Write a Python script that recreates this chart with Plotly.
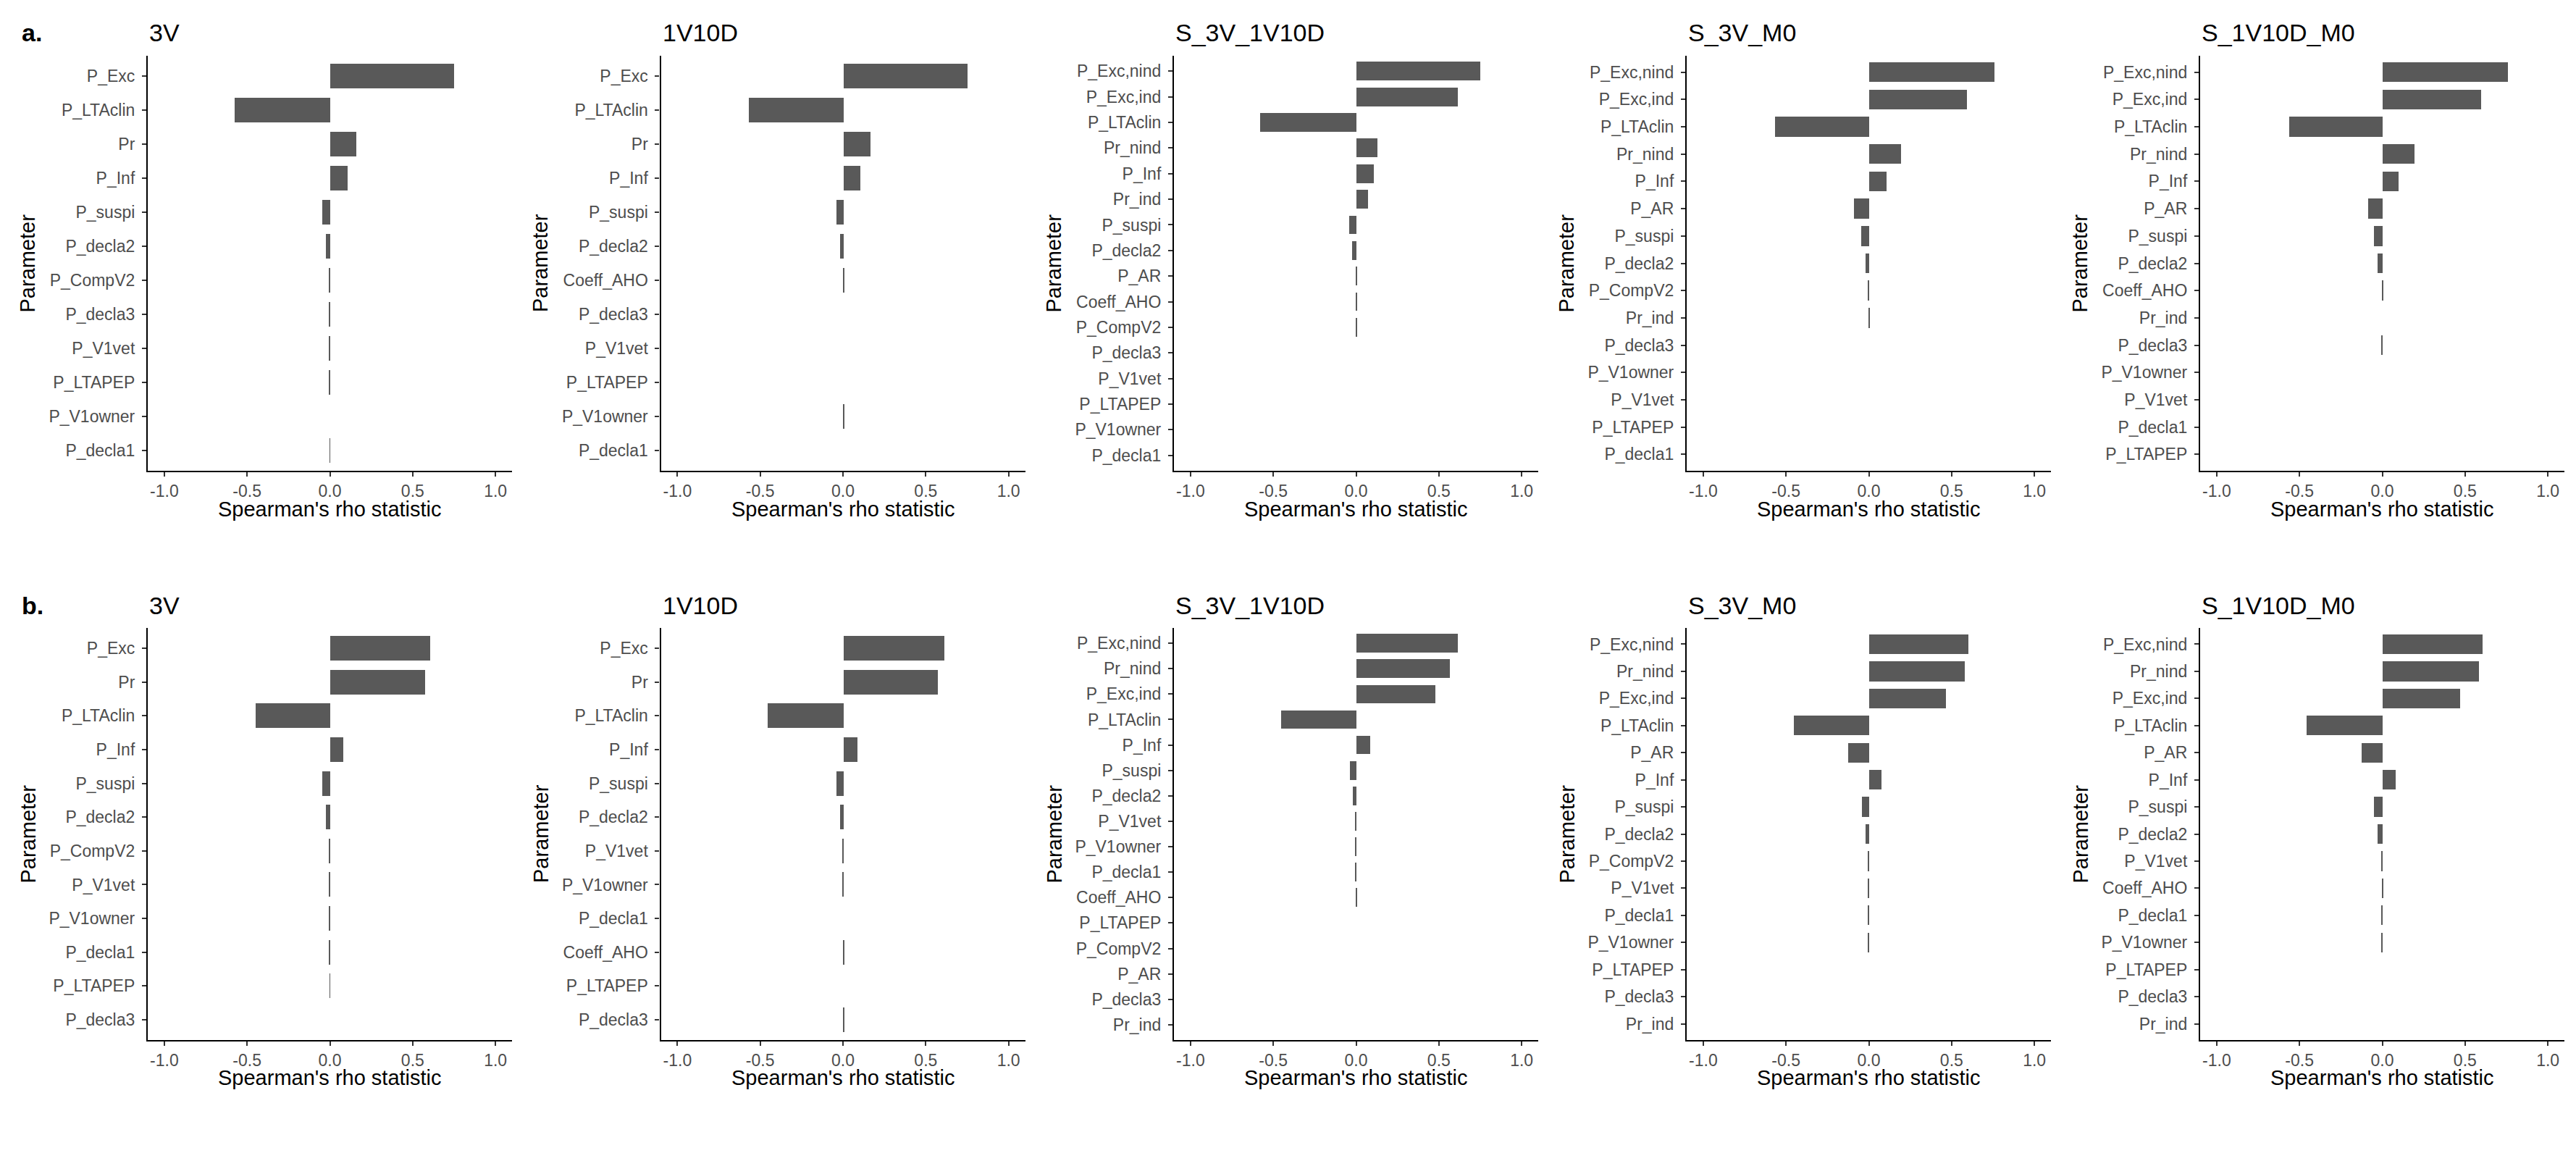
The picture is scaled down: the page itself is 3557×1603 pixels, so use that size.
import plotly.graph_objects as go

# ---------------- DATA ----------------
panel_titles = ["3V", "1V10D", "S_3V_1V10D", "S_3V_M0", "S_1V10D_M0"]
row_labels = ["a.", "b."]
x_tick_vals = [-1.0, -0.5, 0.0, 0.5, 1.0]
x_tick_text = ["-1.0", "-0.5", "0.0", "0.5", "1.0"]

# Row a
a_3V_params = ["P_Exc", "P_LTAclin", "Pr", "P_Inf", "P_suspi", "P_decla2", "P_CompV2",
               "P_decla3", "P_V1vet", "P_LTAPEP", "P_V1owner", "P_decla1"]
a_3V_rho = [0.752, -0.577, 0.161, 0.105, -0.044, -0.024, -0.004, -0.004, -0.004, -0.003, 0.0, -0.002]

a_1V10D_params = ["P_Exc", "P_LTAclin", "Pr", "P_Inf", "P_suspi", "P_decla2", "Coeff_AHO",
                  "P_decla3", "P_V1vet", "P_LTAPEP", "P_V1owner", "P_decla1"]
a_1V10D_rho = [0.752, -0.572, 0.162, 0.104, -0.040, -0.020, 0.003, 0.0, 0.0, 0.0, 0.003, 0.0]

a_S3V1V10D_params = ["P_Exc,nind", "P_Exc,ind", "P_LTAclin", "Pr_nind", "P_Inf", "Pr_ind",
                     "P_suspi", "P_decla2", "P_AR", "Coeff_AHO", "P_CompV2", "P_decla3",
                     "P_V1vet", "P_LTAPEP", "P_V1owner", "P_decla1"]
a_S3V1V10D_rho = [0.748, 0.613, -0.579, 0.127, 0.107, 0.070, -0.042, -0.026, 0.003, 0.003,
                  0.003, 0.0, 0.0, 0.0, 0.0, 0.0]

a_S3VM0_params = ["P_Exc,nind", "P_Exc,ind", "P_LTAclin", "Pr_nind", "P_Inf", "P_AR",
                  "P_suspi", "P_decla2", "P_CompV2", "Pr_ind", "P_decla3", "P_V1owner",
                  "P_V1vet", "P_LTAPEP", "P_decla1"]
a_S3VM0_rho = [0.757, 0.592, -0.565, 0.193, 0.105, -0.089, -0.048, -0.020, -0.006, 0.003,
               0.0, 0.0, 0.0, 0.0, 0.0]

a_S1V10DM0_params = ["P_Exc,nind", "P_Exc,ind", "P_LTAclin", "Pr_nind", "P_Inf", "P_AR",
                     "P_suspi", "P_decla2", "Coeff_AHO", "Pr_ind", "P_decla3", "P_V1owner",
                     "P_V1vet", "P_decla1", "P_LTAPEP"]
a_S1V10DM0_rho = [0.761, 0.596, -0.562, 0.195, 0.098, -0.087, -0.049, -0.028, 0.005, 0.0,
                  -0.005, 0.0, 0.0, 0.0, 0.0]

# Row b
b_3V_params = ["P_Exc", "Pr", "P_LTAclin", "P_Inf", "P_suspi", "P_decla2", "P_CompV2",
               "P_V1vet", "P_V1owner", "P_decla1", "P_LTAPEP", "P_decla3"]
b_3V_rho = [0.607, 0.573, -0.450, 0.080, -0.044, -0.024, -0.004, -0.004, -0.003, -0.003, -0.002, 0.0]

b_1V10D_params = ["P_Exc", "Pr", "P_LTAclin", "P_Inf", "P_suspi", "P_decla2", "P_V1vet",
                  "P_V1owner", "P_decla1", "Coeff_AHO", "P_LTAPEP", "P_decla3"]
b_1V10D_rho = [0.608, 0.570, -0.455, 0.086, -0.040, -0.020, -0.006, -0.006, 0.0, 0.003, 0.0, 0.003]

b_S3V1V10D_params = ["P_Exc,nind", "Pr_nind", "P_Exc,ind", "P_LTAclin", "P_Inf", "P_suspi",
                     "P_decla2", "P_V1vet", "P_V1owner", "P_decla1", "Coeff_AHO", "P_LTAPEP",
                     "P_CompV2", "P_AR", "P_decla3", "Pr_ind"]
b_S3V1V10D_rho = [0.613, 0.565, 0.478, -0.454, 0.086, -0.038, -0.020, -0.005, -0.005, -0.005,
                  0.003, 0.0, 0.0, 0.0, 0.0, 0.0]

b_S3VM0_params = ["P_Exc,nind", "Pr_nind", "P_Exc,ind", "P_LTAclin", "P_AR", "P_Inf",
                  "P_suspi", "P_decla2", "P_CompV2", "P_V1vet", "P_decla1", "P_V1owner",
                  "P_LTAPEP", "P_decla3", "Pr_ind"]
b_S3VM0_rho = [0.602, 0.581, 0.467, -0.451, -0.125, 0.076, -0.042, -0.020, -0.006, -0.006,
               -0.006, -0.004, 0.0, 0.0, 0.0]

b_S1V10DM0_params = ["P_Exc,nind", "Pr_nind", "P_Exc,ind", "P_LTAclin", "P_AR", "P_Inf",
                     "P_suspi", "P_decla2", "P_V1vet", "Coeff_AHO", "P_decla1", "P_V1owner",
                     "P_LTAPEP", "P_decla3", "Pr_ind"]
b_S1V10DM0_rho = [0.604, 0.585, 0.469, -0.456, -0.125, 0.081, -0.049, -0.028, -0.005, 0.005,
                  -0.005, -0.005, 0.0, 0.0, 0.0]

rows = [
    [(a_3V_params, a_3V_rho), (a_1V10D_params, a_1V10D_rho),
     (a_S3V1V10D_params, a_S3V1V10D_rho), (a_S3VM0_params, a_S3VM0_rho),
     (a_S1V10DM0_params, a_S1V10DM0_rho)],
    [(b_3V_params, b_3V_rho), (b_1V10D_params, b_1V10D_rho),
     (b_S3V1V10D_params, b_S3V1V10D_rho), (b_S3VM0_params, b_S3VM0_rho),
     (b_S1V10DM0_params, b_S1V10DM0_rho)],
]

# ---------------- LAYOUT ----------------
W, H = 3557, 1603
FONT = "Liberation Sans, Arial, sans-serif"
BAR_COLOR = "#595959"
TICK_COLOR = "#4D4D4D"

panel_lefts = [196, 904.5, 1613, 2321, 3030]
panel_width = 503
row_tops = [69, 859]
row_bottoms = [642, 1428]
title_y = [37, 828]
xtitle_y = [695, 1480]


def px(x):
    return x / W


def py(y):
    return 1 - y / H


fig = go.Figure()
annotations = []
layout = {}

k = 0
for r, row in enumerate(rows):
    for c, (params, rho) in enumerate(row):
        k += 1
        xa = "x" if k == 1 else f"x{k}"
        ya = "y" if k == 1 else f"y{k}"
        xkey = "xaxis" if k == 1 else f"xaxis{k}"
        ykey = "yaxis" if k == 1 else f"yaxis{k}"
        left = panel_lefts[c]
        right = left + panel_width
        top, bottom = row_tops[r], row_bottoms[r]
        n = len(params)

        fig.add_trace(go.Bar(
            x=rho, y=params, orientation="h", width=0.73,
            marker=dict(color=BAR_COLOR, line=dict(width=0)),
            xaxis=xa, yaxis=ya, showlegend=False,
        ))

        layout[xkey] = dict(
            domain=[px(left), px(right)], anchor=ya,
            range=[-1.1, 1.1], tickvals=x_tick_vals, ticktext=x_tick_text,
            showline=True, linecolor="black", linewidth=2.2,
            ticks="outside", ticklen=6, tickwidth=2, tickcolor="#333333",
            showgrid=False, zeroline=False,
            tickfont=dict(family=FONT, size=23, color=TICK_COLOR),
        )
        layout[ykey] = dict(
            domain=[py(bottom), py(top)], anchor=xa,
            type="category", categoryorder="array", categoryarray=params,
            range=[n - 1 + 0.6, -0.6],
            showline=True, linecolor="black", linewidth=2.2,
            ticks="outside", ticklen=6, tickwidth=2, tickcolor="#333333",
            showgrid=False, zeroline=False, ticklabelstandoff=5,
            tickfont=dict(family=FONT, size=23, color=TICK_COLOR),
        )

        # panel title
        annotations.append(dict(
            text=panel_titles[c], xref="paper", yref="paper",
            x=px(left), y=py(title_y[r]), xanchor="left", yanchor="middle",
            showarrow=False, font=dict(family=FONT, size=34, color="black"),
        ))
        # x axis title
        annotations.append(dict(
            text="Spearman's rho statistic", xref="paper", yref="paper",
            x=px((left + right) / 2), y=py(xtitle_y[r]), xanchor="center", yanchor="middle",
            showarrow=False, font=dict(family=FONT, size=29, color="black"),
        ))
        # y axis title
        annotations.append(dict(
            text="Parameter", xref="paper", yref="paper",
            x=px(left - 166), y=py((top + bottom) / 2), xanchor="center", yanchor="middle",
            textangle=-90, showarrow=False, font=dict(family=FONT, size=29, color="black"),
        ))

for r, lab in enumerate(row_labels):
    annotations.append(dict(
        text=f"<b>{lab}</b>", xref="paper", yref="paper",
        x=px(20), y=py(title_y[r]), xanchor="left", yanchor="middle",
        showarrow=False, font=dict(family=FONT, size=34, color="black"),
    ))

fig.update_layout(
    width=W, height=H, autosize=False,
    margin=dict(l=0, r=0, t=0, b=0),
    paper_bgcolor="white", plot_bgcolor="white",
    annotations=annotations, bargap=0,
    **layout,
)

fig.write_html("out.html")
